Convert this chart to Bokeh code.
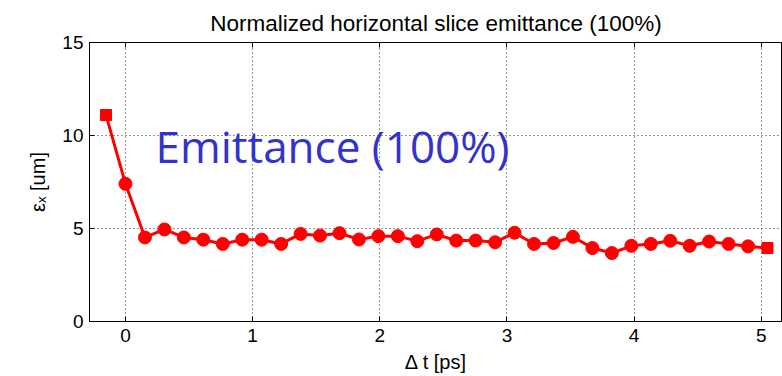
import numpy as np
from bokeh.plotting import figure
from bokeh.models import Range1d, LinearAxis, FixedTicker, Label
from bokeh.embed import file_html
from bokeh.resources import INLINE

# slice delay [ps] and normalized horizontal slice emittance [um]
dt_ps = [-0.153, 0.0, 0.153, 0.306, 0.459, 0.612, 0.765, 0.918, 1.071, 1.224,
         1.377, 1.530, 1.683, 1.836, 1.989, 2.142, 2.295, 2.448, 2.601, 2.754,
         2.907, 3.060, 3.213, 3.366, 3.519, 3.672, 3.825, 3.978, 4.131, 4.284,
         4.437, 4.590, 4.743, 4.896, 5.049]
emit_um = [11.1, 7.4, 4.52, 4.95, 4.52, 4.4, 4.17, 4.4, 4.4, 4.17,
           4.71, 4.62, 4.75, 4.41, 4.59, 4.59, 4.32, 4.68, 4.35, 4.35,
           4.26, 4.77, 4.17, 4.22, 4.55, 3.95, 3.68, 4.07, 4.17, 4.34,
           4.07, 4.3, 4.17, 4.04, 3.95]

x_ticks = [0, 1, 2, 3, 4, 5]
y_ticks = [0, 5, 10, 15]

FONT = "Liberation Sans"
RED = "#ff0000"

p = figure(width=782, height=376, output_backend="svg", toolbar_location=None,
           x_range=Range1d(-0.283, 5.167), y_range=Range1d(0, 15),
           min_border_left=89, min_border_right=0, min_border_top=42,
           min_border_bottom=55)

p.title.text = "Normalized horizontal slice emittance (100%)"
p.title.align = "center"
p.title.text_font = FONT
p.title.text_font_size = "22.5px"
p.title.text_font_style = "normal"
p.title.text_color = "black"
p.title.offset = 0
p.title.standoff = 14

p.outline_line_color = "black"
p.outline_line_width = 1
p.background_fill_color = "white"
p.border_fill_color = "white"

for ax in (p.xaxis[0], p.yaxis[0]):
    ax.major_tick_in = 5
    ax.major_tick_out = 0
    ax.minor_tick_in = 0
    ax.minor_tick_out = 0
    ax.axis_line_color = "black"
    ax.major_tick_line_color = "black"
    ax.major_label_text_font = FONT
    ax.major_label_text_font_size = "19px"
    ax.major_label_text_color = "black"
    ax.axis_label_text_font = FONT
    ax.axis_label_text_font_size = "20px"
    ax.axis_label_text_font_style = "normal"
    ax.axis_label_text_color = "black"

p.xaxis.ticker = FixedTicker(ticks=x_ticks)
p.yaxis.ticker = FixedTicker(ticks=y_ticks)
p.xaxis.axis_label = "\u0394 t [ps]"
p.yaxis.axis_label = "\u03b5\u2093 [um]"
p.xaxis.major_label_standoff = 7
p.yaxis.major_label_standoff = 6
p.xaxis.axis_label_standoff = 6
p.yaxis.axis_label_standoff = 10

# inward ticks on the top border as well
top = LinearAxis(ticker=FixedTicker(ticks=x_ticks), major_tick_in=5,
                 major_tick_out=0, minor_tick_in=0, minor_tick_out=0,
                 major_label_text_font_size="0px", axis_line_color="black")
top.major_label_overrides = {t: "" for t in x_ticks}
p.add_layout(top, "above")

p.xgrid.ticker = FixedTicker(ticks=x_ticks)
p.ygrid.ticker = FixedTicker(ticks=y_ticks)
for g in (p.xgrid[0], p.ygrid[0]):
    g.grid_line_color = "#333333"
    g.grid_line_dash = "1 3"
    g.grid_line_width = 1

p.line(dt_ps, emit_um, line_color=RED, line_width=3)
p.scatter(dt_ps[1:-1], emit_um[1:-1], marker="circle", size=13,
          fill_color=RED, line_color=RED)
p.scatter([dt_ps[0], dt_ps[-1]], [emit_um[0], emit_um[-1]], marker="square",
          size=11, fill_color=RED, line_color=RED)

p.add_layout(Label(x=0.236, y=9.45, text="Emittance (100%)",
                   text_font="Open Sans", text_font_size="44px",
                   text_color="#3333cc", text_baseline="alphabetic"))

open("out.html", "w").write(file_html(p, INLINE))
